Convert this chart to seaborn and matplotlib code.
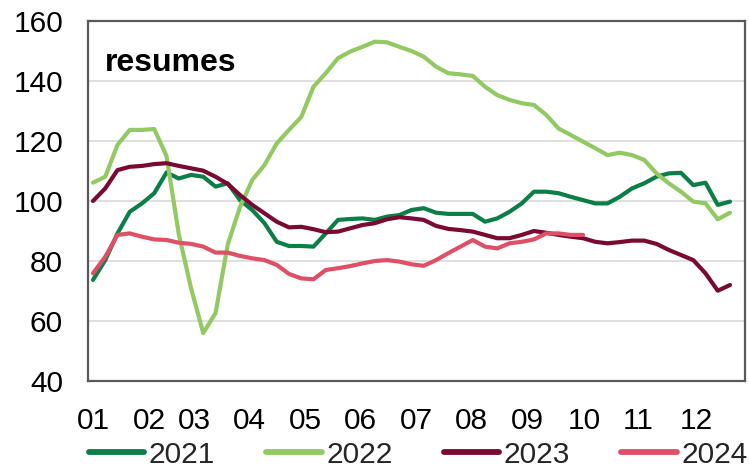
import numpy as np
import pandas as pd
import matplotlib
matplotlib.use("Agg")
import matplotlib.pyplot as plt
import seaborn as sns
from matplotlib import font_manager
from matplotlib.lines import Line2D

# ---------------- data ----------------
years = ["2021", "2022", "2023", "2024"]
month_labels = ["01", "02", "03", "04", "05", "06", "07", "08", "09", "10", "11", "12"]

v2021 = [73.7, 80.3, 89.2, 96.4, 99.2, 102.6, 109.5, 107.5, 108.7, 108.1,
         104.8, 105.9, 100.3, 97.0, 92.6, 86.4, 85.0, 85.0, 84.8, 89.2,
         93.7, 94.0, 94.2, 93.7, 94.8, 95.3, 97.0, 97.6, 96.1, 95.7,
         95.7, 95.7, 93.1, 94.2, 96.4, 99.2, 103.1, 103.1, 102.6, 101.4,
         100.3, 99.2, 99.2, 101.4, 104.2, 105.9, 108.1, 109.2, 109.4, 105.3,
         106.1, 98.7, 99.8]
v2022 = [106.1, 108.1, 118.7, 123.7, 123.7, 124.0, 115.0, 89.0, 71.0, 56.0,
         62.6, 85.5, 98.0, 107.0, 112.0, 119.2, 123.7, 128.0, 138.1, 142.6,
         147.6, 149.8, 151.4, 153.1, 152.9, 151.4, 150.0, 148.1, 144.8, 142.6,
         142.2, 141.7, 138.1, 135.3, 133.7, 132.6, 132.0, 128.7, 124.2, 122.0,
         119.8, 117.6, 115.3, 116.1, 115.3, 113.7, 109.2, 105.9, 103.1, 99.8,
         99.2, 93.9, 96.1]
v2023 = [100.0, 104.2, 110.3, 111.4, 111.7, 112.3, 112.6, 111.7, 110.9, 110.1,
         108.1, 105.7, 102.0, 98.7, 95.9, 93.1, 91.2, 91.4, 90.6, 89.6,
         89.8, 90.9, 92.0, 92.6, 93.9, 94.6, 94.2, 93.7, 91.7, 90.7,
         90.3, 89.8, 88.7, 87.6, 87.6, 88.7, 90.0, 89.4, 88.7, 88.1,
         87.6, 86.4, 85.9, 86.3, 86.8, 86.8, 85.7, 83.7, 82.0, 80.3,
         75.9, 70.1, 72.0]
v2024 = [75.9, 81.4, 88.7, 89.2, 88.1, 87.2, 87.0, 86.1, 85.7, 84.8,
         82.8, 82.8, 81.7, 80.9, 80.3, 78.7, 75.7, 74.2, 73.9, 77.0,
         77.6, 78.3, 79.2, 80.0, 80.3, 79.8, 78.9, 78.4, 80.3, 82.6,
         84.8, 87.0, 84.8, 84.2, 85.9, 86.4, 87.2, 89.2, 89.2, 88.7,
         88.7]

series = {"2021": v2021, "2022": v2022, "2023": v2023, "2024": v2024}
frames = []
for yr in years:
    vals = series[yr]
    frames.append(pd.DataFrame({"week": np.arange(len(vals)), "value": vals, "year": yr}))
df = pd.concat(frames, ignore_index=True)

# ---------------- style ----------------
sns.set_theme(style="white")
avail = {f.name for f in font_manager.fontManager.ttflist}
narrow = "Liberation Sans Narrow" if "Liberation Sans Narrow" in avail else "Liberation Sans"
plt.rcParams["font.family"] = [narrow, "DejaVu Sans"]

palette = {"2021": "#0B7F47", "2022": "#92C962", "2023": "#7A0A33", "2024": "#DF5067"}

W, H = 749, 468
fig = plt.figure(figsize=(W / 100, H / 100), dpi=100)
ax = fig.add_axes([88 / W, (H - 381) / H, (745 - 88) / W, 360 / H])

sns.lineplot(data=df, x="week", y="value", hue="year", palette=palette,
             hue_order=years, linewidth=3.0, ax=ax, legend=False, zorder=3)

# pixel-based layout: week spacing 12.25 px, first point at x=93 px
px_per_week = 12.25
x0_px = 93.0
ax.set_xlim((88 - x0_px) / px_per_week, (745 - x0_px) / px_per_week)
ax.set_ylim(40, 160)

tick_px = [93.8, 149.7, 194.6, 249.5, 305.4, 360.3, 416.2, 471.6, 527.5, 584.3, 638.7, 696.0]
ax.set_xticks([(p - x0_px) / px_per_week for p in tick_px])
ax.set_xticklabels(month_labels)
ax.set_yticks(np.arange(40, 161, 20))

ax.set_xlabel("")
ax.set_ylabel("")
ax.grid(axis="y", color="#D9D9D9", linewidth=1.2, zorder=0)
ax.grid(axis="x", visible=False)
for s in ax.spines.values():
    s.set_color("#595959")
    s.set_linewidth(1.6)

ax.tick_params(axis="y", direction="in", length=5, width=1.4, color="#595959",
               labelsize=21.5, pad=18, labelcolor="black")
ax.tick_params(axis="x", length=0, labelsize=21.5, pad=19, labelcolor="black")

ax.text(0.025, 0.86, "resumes", transform=ax.transAxes,
        fontsize=23, fontweight="bold", family=["Liberation Sans", "DejaVu Sans"],
        color="black", va="baseline", ha="left")

handles = [Line2D([0], [0], color=palette[y], lw=4.2, solid_capstyle="round") for y in years]
leg = fig.legend(handles, years, loc="lower left", bbox_to_anchor=(89 / W, -0.002),
                 ncol=4, frameon=False, fontsize=21.5, handlelength=1.85,
                 handletextpad=0.15, columnspacing=1.72, borderaxespad=0,
                 borderpad=0)

fig.savefig("out.png", dpi=100)
